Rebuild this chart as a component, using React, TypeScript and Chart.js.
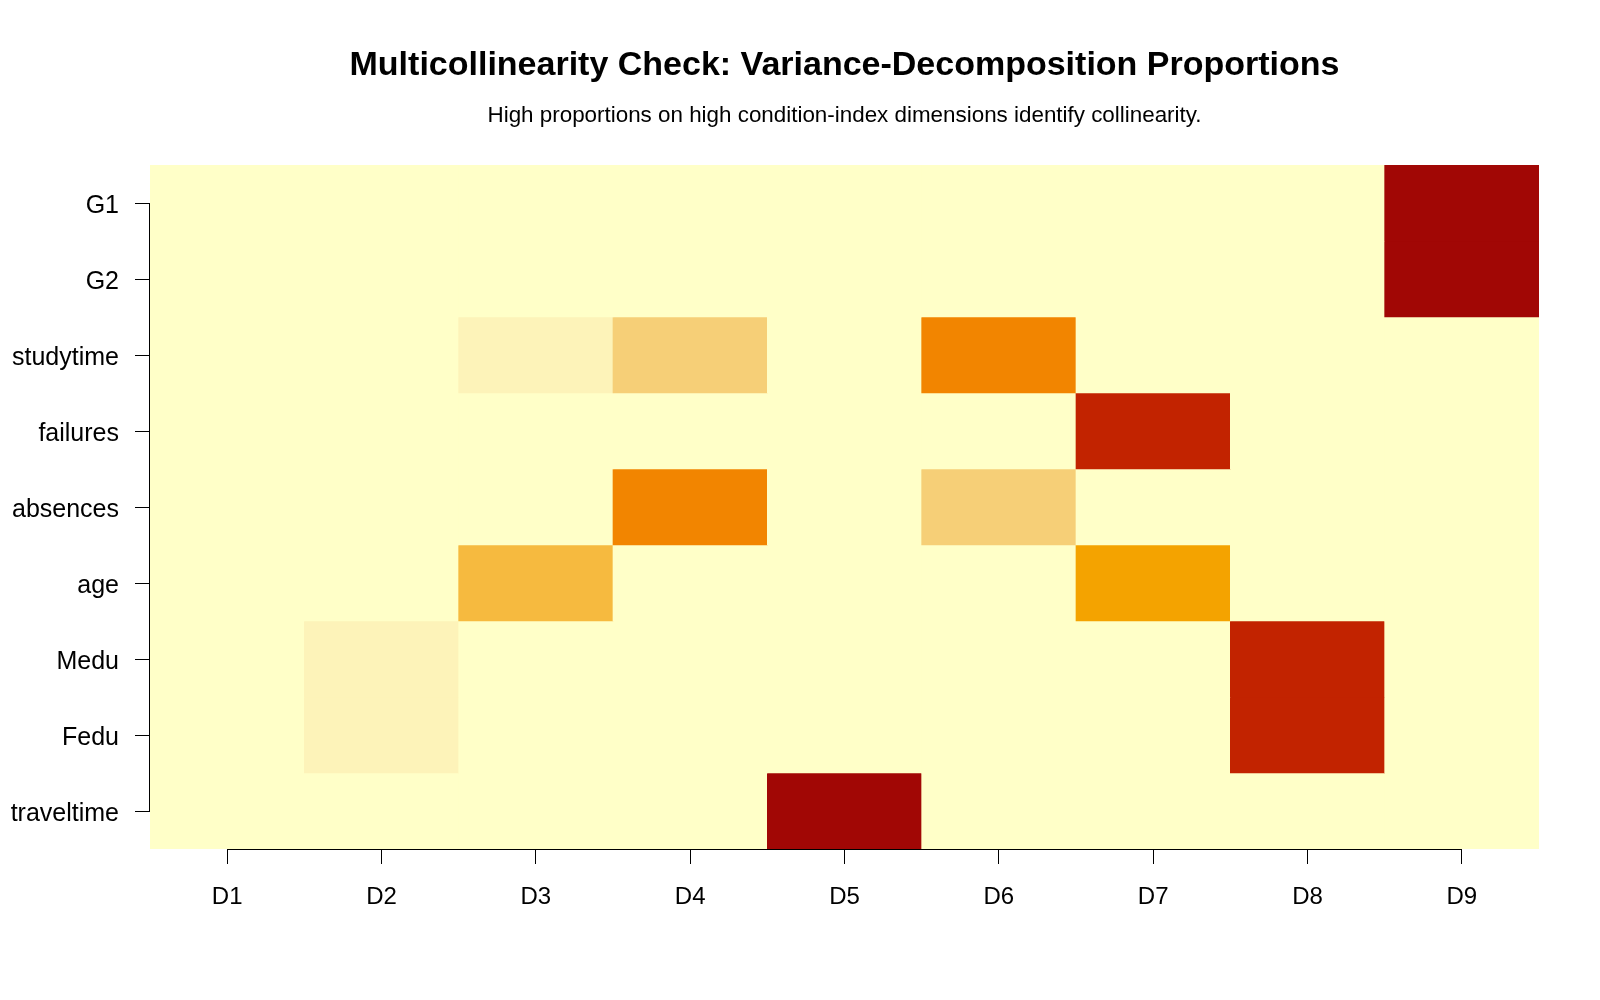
import React, { useEffect, useRef } from "react";
import { Chart, registerables } from "chart.js";

Chart.register(...registerables);

// Predictors (top to bottom) and condition-index dimensions (left to right)
const variables = ["G1", "G2", "studytime", "failures", "absences", "age", "Medu", "Fedu", "traveltime"];
const dimensions = ["D1", "D2", "D3", "D4", "D5", "D6", "D7", "D8", "D9"];

// Variance-decomposition proportions, one array per predictor (D1..D9)
const propG1 = [0.0, 0.0, 0.0, 0.01, 0.0, 0.01, 0.02, 0.07, 0.88];
const propG2 = [0.0, 0.0, 0.0, 0.01, 0.0, 0.01, 0.03, 0.06, 0.87];
const propStudytime = [0.02, 0.01, 0.12, 0.27, 0.0, 0.55, 0.01, 0.02, 0.0];
const propFailures = [0.01, 0.02, 0.01, 0.05, 0.03, 0.07, 0.76, 0.04, 0.01];
const propAbsences = [0.03, 0.03, 0.01, 0.53, 0.06, 0.26, 0.02, 0.05, 0.01];
const propAge = [0.0, 0.01, 0.34, 0.02, 0.05, 0.04, 0.45, 0.08, 0.01];
const propMedu = [0.01, 0.14, 0.02, 0.01, 0.01, 0.01, 0.02, 0.78, 0.0];
const propFedu = [0.01, 0.13, 0.02, 0.01, 0.02, 0.02, 0.01, 0.77, 0.01];
const propTraveltime = [0.02, 0.03, 0.02, 0.02, 0.86, 0.02, 0.01, 0.01, 0.01];

const proportions = [
  propG1, propG2, propStudytime, propFailures, propAbsences,
  propAge, propMedu, propFedu, propTraveltime,
];

// Stepped yellow-orange-red scale, one colour per 0.1 band of [0, 1]
const palette = [
  "#FFFFC8", "#FDF3B9", "#F6CF77", "#F6BA3F", "#F4A300",
  "#F28500", "#DE5A00", "#C22300", "#A10705", "#7D0025",
];

const colourFor = (v: number) => palette[Math.min(palette.length - 1, Math.floor(v * 10))];

const FONT = "'Liberation Sans', Arial, sans-serif";
const TITLE = "Multicollinearity Check: Variance-Decomposition Proportions";
const SUBTITLE = "High proportions on high condition-index dimensions identify collinearity.";

// Title and subtitle centred over the plotting region
const headings = {
  id: "headings",
  afterDraw(chart: any) {
    const { ctx, chartArea } = chart;
    const cx = (chartArea.left + chartArea.right) / 2;
    ctx.save();
    ctx.fillStyle = "#000";
    ctx.textAlign = "center";
    ctx.textBaseline = "middle";
    ctx.font = `bold 34px ${FONT}`;
    ctx.fillText(TITLE, cx, 66);
    ctx.font = `22.4px ${FONT}`;
    ctx.fillText(SUBTITLE, cx, 116);
    ctx.restore();
  },
};

// Pale base under the cells, and R-style axis lines from first tick to last
const axisLines = {
  id: "axisLines",
  beforeDatasetsDraw(chart: any) {
    const { ctx, chartArea } = chart;
    ctx.save();
    ctx.fillStyle = palette[0];
    ctx.fillRect(chartArea.left, chartArea.top, chartArea.right - chartArea.left, chartArea.bottom - chartArea.top);
    ctx.restore();
  },
  afterDraw(chart: any) {
    const { ctx, chartArea, scales } = chart;
    const xs = scales.x;
    const ys = scales.y;
    ctx.save();
    ctx.strokeStyle = "#000";
    ctx.lineWidth = 1;
    ctx.beginPath();
    const yb = Math.round(chartArea.bottom) + 0.5;
    ctx.moveTo(xs.getPixelForValue(0), yb);
    ctx.lineTo(xs.getPixelForValue(dimensions.length - 1), yb);
    const xl = Math.round(chartArea.left) - 0.5;
    ctx.moveTo(xl, ys.getPixelForValue(0));
    ctx.lineTo(xl, ys.getPixelForValue(variables.length - 1));
    ctx.stroke();
    ctx.restore();
  },
};

export default function App() {
  const ref = useRef<HTMLCanvasElement>(null);

  useEffect(() => {
    if (!ref.current) return;
    const datasets = variables.map((name, r) => ({
      label: name,
      data: dimensions.map(() => [r - 0.5, r + 0.5]),
      backgroundColor: proportions[r].map(colourFor),
      borderWidth: 0,
      categoryPercentage: 1,
      barPercentage: 1,
      grouped: false,
    }));

    const chart = new Chart(ref.current, {
      type: "bar",
      data: { labels: dimensions, datasets: datasets as any },
      plugins: [axisLines, headings],
      options: {
        animation: false,
        responsive: false,
        devicePixelRatio: 1,
        layout: { padding: { left: 0, right: 61, top: 165, bottom: 0 } },
        plugins: {
          legend: { display: false },
          tooltip: { enabled: false },
          title: { display: false },
          subtitle: { display: false },
        },
        scales: {
          x: {
            type: "category",
            offset: true,
            grid: {
              display: true,
              offset: false,
              drawOnChartArea: false,
              drawTicks: true,
              tickLength: 15,
              color: "#000",
            },
            border: { display: false },
            ticks: { color: "#000", font: { family: FONT, size: 24 }, padding: 19, maxRotation: 0 },
            afterFit: (s: any) => {
              s.height = 151;
            },
          },
          y: {
            type: "linear",
            min: -0.5,
            max: variables.length - 0.5,
            reverse: true,
            grid: {
              display: true,
              drawOnChartArea: false,
              drawTicks: true,
              tickLength: 15,
              color: "#000",
            },
            border: { display: false },
            afterBuildTicks: (s: any) => {
              s.ticks = variables.map((_, i) => ({ value: i }));
            },
            ticks: {
              color: "#000",
              font: { family: FONT, size: 25 },
              padding: 16,
              labelOffset: 3,
              callback: (v: any) => variables[v as number] ?? "",
            },
            afterFit: (s: any) => {
              s.width = 150;
            },
          },
        },
      },
    });
    return () => chart.destroy();
  }, []);

  return (
    <div style={{ position: "absolute", left: 0, top: 0, width: 1600, height: 1000, background: "#fff" }}>
      <canvas ref={ref} width={1600} height={1000} />
    </div>
  );
}
